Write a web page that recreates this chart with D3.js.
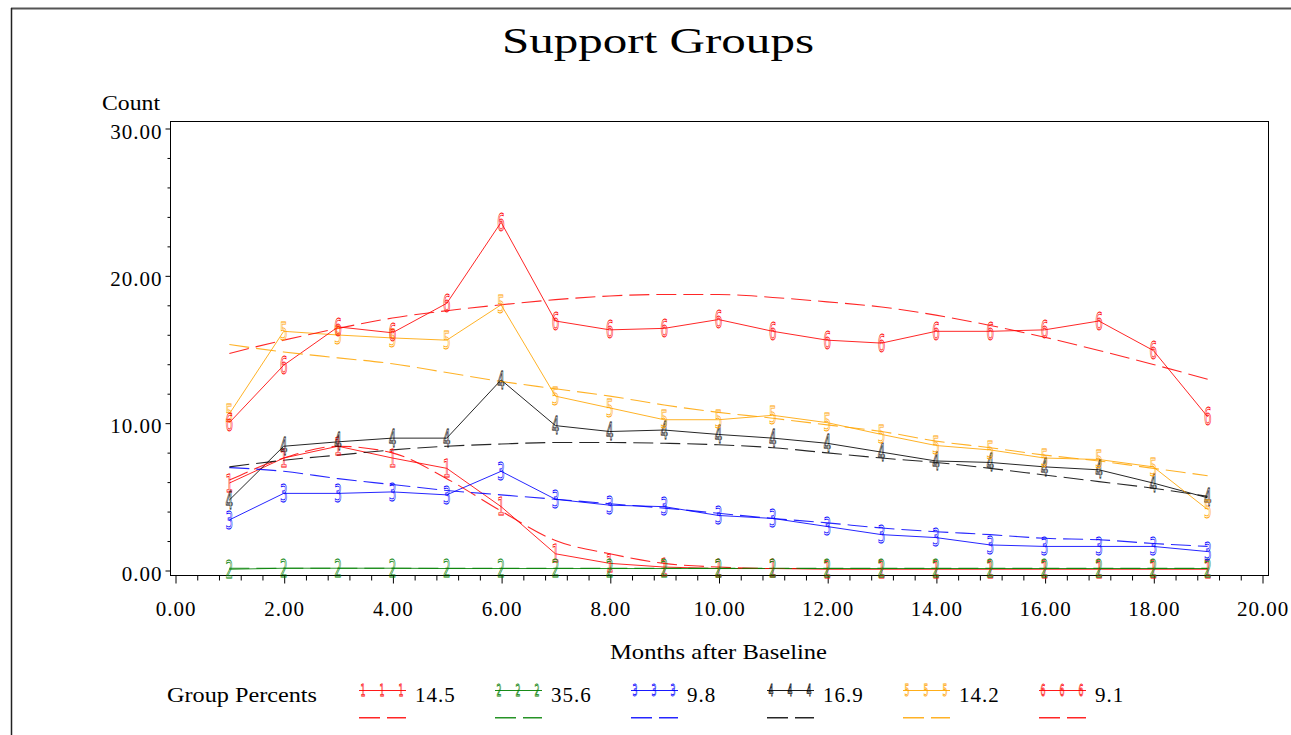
<!DOCTYPE html>
<html>
<head>
<meta charset="utf-8">
<script src="https://cdn.jsdelivr.net/npm/d3@7"></script>
<style>
  html, body { margin: 0; padding: 0; background: #fff; }
  svg { display: block; }
</style>
</head>
<body>
<svg id="chart" width="1291" height="735"></svg>
<script>
// ---------------- DATA ----------------
const months = [1,2,3,4,5,6,7,8,9,10,11,12,13,14,15,16,17,18,19];
const seriesSymbols = ["1","2","3","4","5","6"];
const seriesLabels = ["14.5","35.6","9.8","16.9","14.2","9.1"];
const seriesColors = ["#ff0000","#008000","#0000ff","#000000","#ffa500","#ff0000"];

// observed (solid lines with symbols)
const obs1 = [5.9,7.6,8.4,7.6,6.9,4.3,1.1,0.45,0.2,0.1,0.1,0.05,0.05,0.05,0.05,0.05,0.05,0.05,0.05];
const obs2 = [0.05,0.12,0.12,0.12,0.1,0.1,0.1,0.1,0.1,0.1,0.1,0.1,0.1,0.1,0.1,0.1,0.1,0.1,0.1];
const obs3 = [3.4,5.2,5.2,5.3,5.1,6.7,4.8,4.4,4.3,3.7,3.5,2.95,2.4,2.2,1.7,1.6,1.6,1.6,1.25];
const obs4 = [4.75,8.4,8.7,8.95,8.95,12.9,9.8,9.4,9.5,9.2,8.95,8.6,8.0,7.4,7.3,7.0,6.8,5.9,4.9];
const obs5 = [10.6,16.2,15.95,15.75,15.6,18.0,11.8,11.0,10.2,10.2,10.5,10.0,9.2,8.45,8.15,7.6,7.5,7.0,4.1];
const obs6 = [10.0,13.9,16.5,16.1,18.1,23.6,16.9,16.3,16.4,17.0,16.2,15.6,15.4,16.2,16.2,16.3,16.9,14.9,10.4];

// predicted (dashed curves)
const fitMonths1 = [1,2,3,4,5,6,7,8,9,10,11,11.5];
const fit1 = [6.1,7.6,8.4,7.95,6.2,4.0,2.0,1.1,0.45,0.2,0.1,0.1];
const fit2 = [0.12,0.12,0.12,0.12,0.12,0.12,0.12,0.12,0.12,0.12,0.12,0.12,0.12,0.12,0.12,0.12,0.12,0.12,0.12];
const fit3 = [6.95,6.7,6.2,5.8,5.4,5.1,4.8,4.5,4.2,3.85,3.5,3.2,2.85,2.6,2.4,2.15,2.05,1.8,1.6];
const fit4 = [7.0,7.45,7.8,8.15,8.4,8.55,8.65,8.65,8.6,8.5,8.3,7.95,7.6,7.3,6.9,6.45,6.0,5.55,5.0];
const fit5 = [15.3,14.8,14.4,14.0,13.4,12.8,12.3,11.8,11.2,10.7,10.3,9.85,9.4,8.75,8.3,7.8,7.4,6.9,6.4];
const fit6 = [14.7,15.6,16.4,17.1,17.6,18.0,18.35,18.6,18.7,18.7,18.5,18.2,17.85,17.3,16.6,15.8,14.9,13.95,12.95];

const xMajorTicks = [0,2,4,6,8,10,12,14,16,18,20];
const yMajorTicks = [0,10,20,30];

const titleText = "Support Groups";
const yAxisTitle = "Count";
const xAxisTitle = "Months after Baseline";
const legendTitle = "Group Percents";

// ---------------- LAYOUT ----------------
const svg = d3.select("#chart");
const SERIF = "'Liberation Serif', 'Times New Roman', serif";
const x = d3.scaleLinear().domain([0, 20]).range([175, 1262]);
const y = d3.scaleLinear().domain([0, 30]).range([570, 128]);
const frame = { left: 170, right: 1268, top: 121, bottom: 575 };

// outer border (top and left)
svg.append("line").attr("x1", 11).attr("x2", 1291).attr("y1", 8.5).attr("y2", 8.5)
  .attr("stroke", "#555").attr("stroke-width", 2);
svg.append("line").attr("x1", 11.5).attr("x2", 11.5).attr("y1", 8).attr("y2", 735)
  .attr("stroke", "#222").attr("stroke-width", 1.5);

// title
svg.append("text").attr("x", 502).attr("y", 53)
  .attr("font-family", SERIF).attr("font-size", 36)
  .attr("textLength", 312).attr("lengthAdjust", "spacingAndGlyphs")
  .attr("fill", "#000").text(titleText);

// y axis title
svg.append("text").attr("x", 102).attr("y", 110)
  .attr("font-family", SERIF).attr("font-size", 20)
  .attr("textLength", 58).attr("lengthAdjust", "spacingAndGlyphs")
  .text(yAxisTitle);

// x axis title
svg.append("text").attr("x", 610).attr("y", 659)
  .attr("font-family", SERIF).attr("font-size", 21)
  .attr("textLength", 217).attr("lengthAdjust", "spacingAndGlyphs")
  .text(xAxisTitle);

// frame
svg.append("rect").attr("x", frame.left + 0.5).attr("y", frame.top + 0.5)
  .attr("width", frame.right - frame.left).attr("height", frame.bottom - frame.top)
  .attr("fill", "none").attr("stroke", "#000").attr("stroke-width", 1);

// x axis
const xMinor = d3.range(0, 20.001, 0.4).filter(v => Math.abs(v / 2 - Math.round(v / 2)) > 1e-6);
const gxMinor = svg.append("g").attr("transform", `translate(0.5,${frame.bottom + 0.5})`)
  .call(d3.axisBottom(x).tickValues(xMinor).tickSize(5).tickFormat(""));
gxMinor.select(".domain").remove();
const gx = svg.append("g").attr("transform", `translate(0.5,${frame.bottom + 0.5})`)
  .call(d3.axisBottom(x).tickValues(xMajorTicks).tickSize(8).tickFormat(d3.format(".2f")));
gx.select(".domain").remove();
gx.selectAll("text").attr("y", 40).attr("dy", 0)
  .attr("font-family", SERIF).attr("font-size", 21).attr("letter-spacing", "1px").attr("fill", "#000");

// y axis
const yMinor = d3.range(0, 30.001, 2).filter(v => v % 10 !== 0);
const gyMinor = svg.append("g").attr("transform", `translate(${frame.left + 0.5},0.5)`)
  .call(d3.axisLeft(y).tickValues(yMinor).tickSize(3).tickFormat(""));
gyMinor.select(".domain").remove();
const gy = svg.append("g").attr("transform", `translate(${frame.left + 0.5},0.5)`)
  .call(d3.axisLeft(y).tickValues(yMajorTicks).tickSize(5).tickFormat(d3.format(".2f")));
gy.select(".domain").remove();
gy.selectAll("text").attr("x", -8).attr("dy", 9.5)
  .attr("font-family", SERIF).attr("font-size", 21).attr("letter-spacing", "1px").attr("fill", "#000");
svg.selectAll(".tick line").attr("stroke", "#000");

// ---------------- SERIES ----------------
const observed = [obs1, obs2, obs3, obs4, obs5, obs6];
const fitted = [
  fitMonths1.map((m, i) => [m, fit1[i]]),
  months.map((m, i) => [m, fit2[i]]),
  months.map((m, i) => [m, fit3[i]]),
  months.map((m, i) => [m, fit4[i]]),
  months.map((m, i) => [m, fit5[i]]),
  months.map((m, i) => [m, fit6[i]])
];

const solidLine = d3.line().x(d => x(d[0])).y(d => y(d[1]));
const dashLine = d3.line().x(d => x(d[0])).y(d => y(d[1])).curve(d3.curveMonotoneX);

const plot = svg.append("g");

observed.forEach((vals, s) => {
  plot.append("path").datum(months.map((m, i) => [m, vals[i]]))
    .attr("d", solidLine).attr("fill", "none")
    .attr("stroke", seriesColors[s]).attr("stroke-width", 1).attr("stroke-opacity", 0.85);
});
fitted.forEach((pts, s) => {
  plot.append("path").datum(pts)
    .attr("d", dashLine).attr("fill", "none")
    .attr("stroke", seriesColors[s]).attr("stroke-width", 1.1).attr("stroke-opacity", 0.85)
    .attr("stroke-dasharray", "20,7");
});

function drawSymbol(g, cx, cy, sym, color, size, w, sw) {
  g.append("text").attr("x", cx).attr("y", cy + size * 0.36)
    .attr("text-anchor", "middle")
    .attr("font-family", "'DejaVu Sans', sans-serif").attr("font-size", size)
    .attr("textLength", w).attr("lengthAdjust", "spacingAndGlyphs")
    .attr("fill", "none").attr("stroke", color).attr("stroke-width", sw)
    .text(sym);
}

observed.forEach((vals, s) => {
  vals.forEach((v, i) => {
    drawSymbol(plot, x(months[i]), y(v), seriesSymbols[s], seriesColors[s], 24, 7.5, 0.9);
  });
});

// ---------------- LEGEND ----------------
svg.append("text").attr("x", 167).attr("y", 702)
  .attr("font-family", SERIF).attr("font-size", 21)
  .attr("textLength", 150).attr("lengthAdjust", "spacingAndGlyphs")
  .text(legendTitle);

seriesLabels.forEach((lab, s) => {
  const sx = 359 + s * 136;
  const g = svg.append("g");
  g.append("line").attr("x1", sx).attr("x2", sx + 47).attr("y1", 690.5).attr("y2", 690.5)
    .attr("stroke", seriesColors[s]).attr("stroke-width", 1).attr("stroke-opacity", 0.9);
  [4, 23, 42].forEach(dx => drawSymbol(g, sx + dx, 690.5, seriesSymbols[s], seriesColors[s], 15, 5, 0.8));
  // dashed legend sample drawn as two explicit segments
  [[0, 21], [28, 47]].forEach(([a, b]) => {
    g.append("rect").attr("x", sx + a).attr("y", 717).attr("width", b - a).attr("height", 1.5)
      .attr("fill", seriesColors[s]).attr("fill-opacity", 0.85);
  });
  g.append("text").attr("x", sx + 56).attr("y", 702)
    .attr("font-family", SERIF).attr("font-size", 21).attr("letter-spacing", "1px")
    .text(lab);
});
</script>
</body>
</html>
